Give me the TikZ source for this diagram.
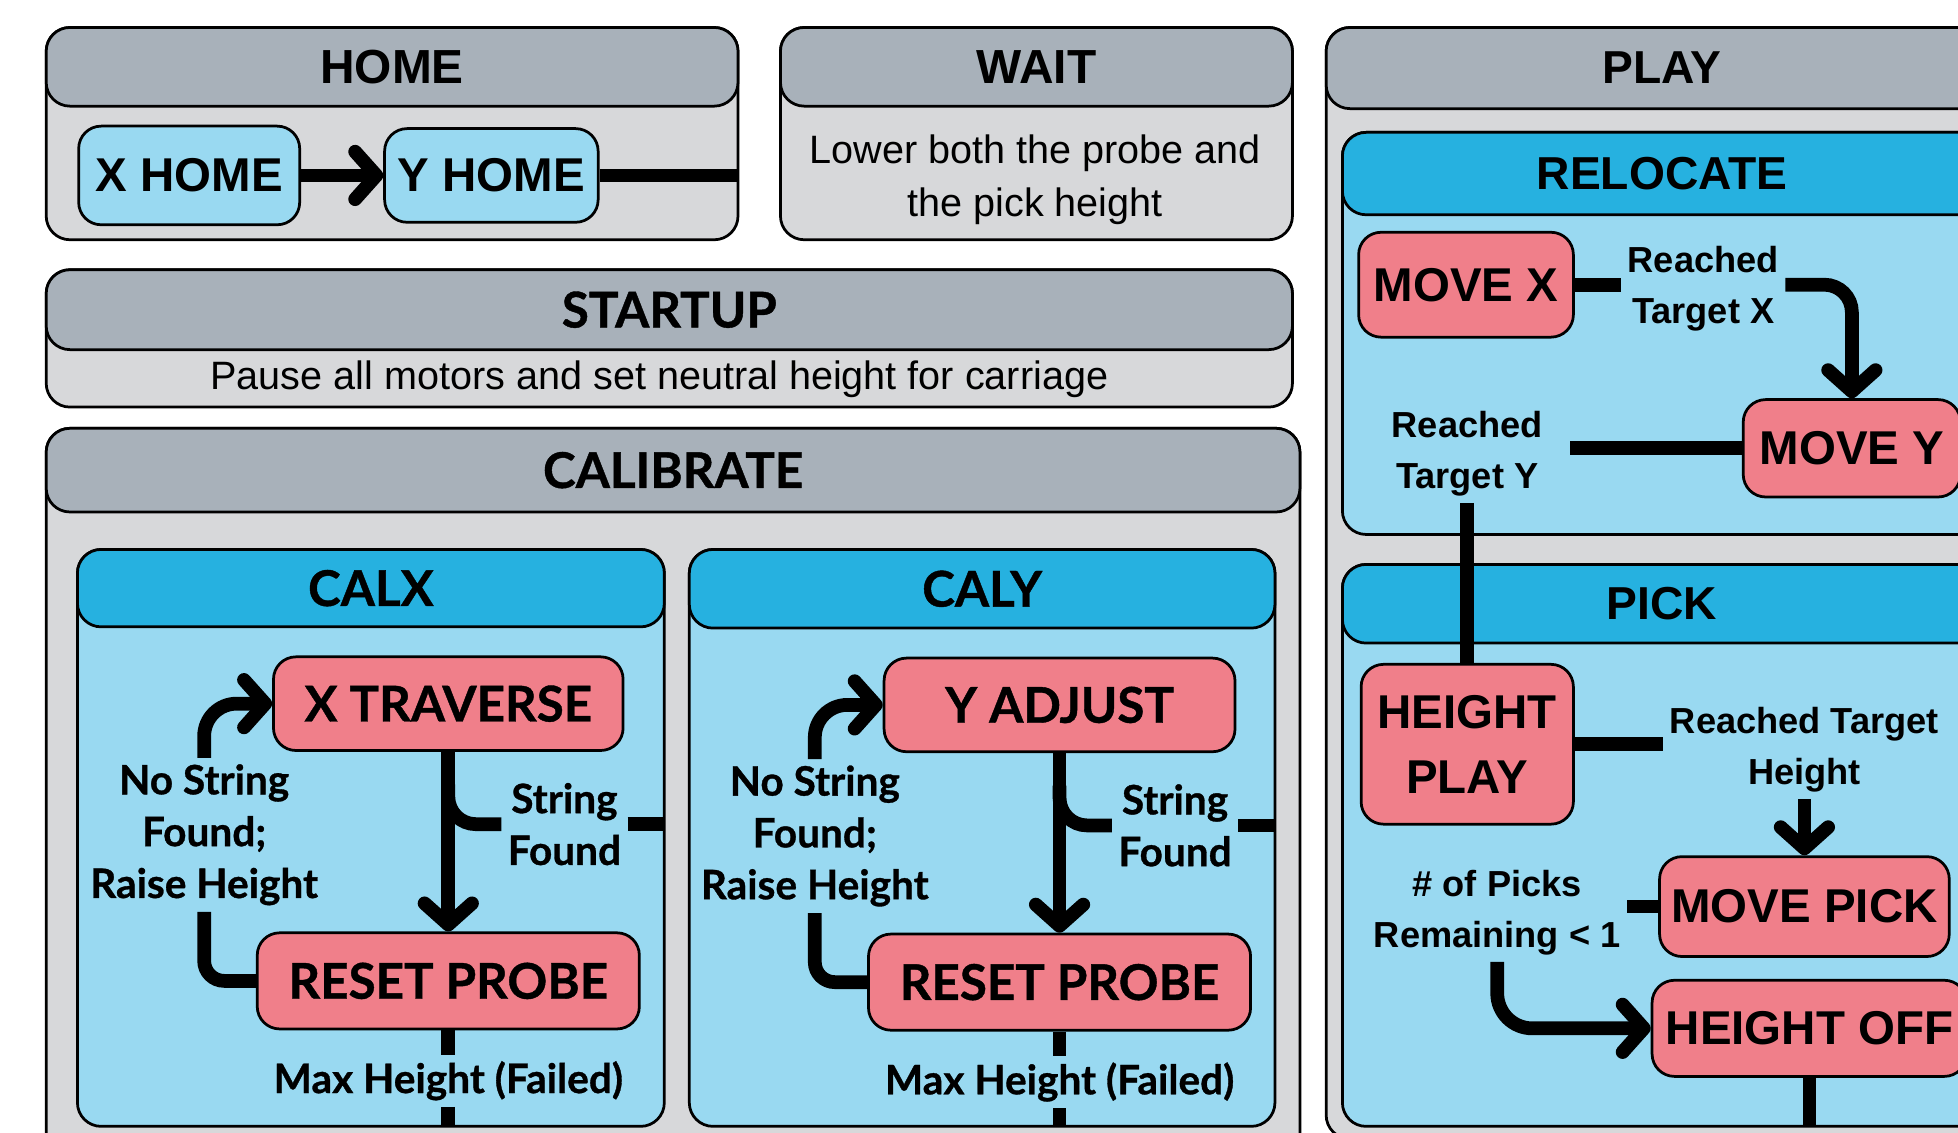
\documentclass[tikz,border=0pt]{standalone}
\usepackage{fontspec}
\setmainfont{Liberation Sans}
\newfontfamily\calfont[BoldFeatures={FakeBold=0.8}]{Lato}
\usetikzlibrary{arrows.meta}

\definecolor{hdgray}{HTML}{A8B1BA}
\definecolor{bdgray}{HTML}{D7D8DA}
\definecolor{hdblue}{HTML}{26B1E0}
\definecolor{bdblue}{HTML}{99D9F1}
\definecolor{stpink}{HTML}{F07F8A}

% type sizes (1 unit = 1pt)
\newcommand*\fHead{\fontsize{37}{44}\selectfont\bfseries}
\newcommand*\fHome{\fontsize{38.3}{44}\selectfont\bfseries}
\newcommand*\fState{\fontsize{38}{52}\selectfont\bfseries}
\newcommand*\fLabel{\fontsize{29}{41}\selectfont\bfseries}
\newcommand*\fNote{\fontsize{31.7}{42}\selectfont}
\newcommand*\fCalHead{\calfont\fontsize{39.5}{44}\selectfont\bfseries}
\newcommand*\fCalState{\calfont\fontsize{39.5}{44}\selectfont\bfseries}
\newcommand*\fCalLabel{\calfont\fontsize{32.5}{41.5}\selectfont\bfseries}

\begin{document}
\begin{tikzpicture}[x=1pt,y=-1pt,
  frame/.style={draw=black, line width=2.2pt, rounded corners=19pt,
    anchor=north west, inner sep=0pt, outer sep=0pt},
  graybody/.style={frame, fill=bdgray},
  grayhead/.style={frame, fill=hdgray, font=\fHead},
  grayheadc/.style={frame, fill=hdgray, font=\fCalHead},
  bluebody/.style={frame, fill=bdblue},
  bluehead/.style={frame, fill=hdblue, font=\fHead},
  blueheadc/.style={frame, fill=hdblue, font=\fCalHead},
  state/.style={draw=black, line width=2.2pt, rounded corners=18pt,
    inner sep=0pt, align=center, font=\fState},
  skystate/.style={state, fill=bdblue},
  pinkstate/.style={state, fill=stpink},
  calstate/.style={state, fill=stpink, font=\fCalState},
  lbl/.style={font=\fLabel, align=center, inner sep=5pt},
  calLbl/.style={font=\fCalLabel, align=center, inner sep=5pt},
  note/.style={font=\fNote, align=center, inner sep=0pt},
  conn/.style={draw=black, line width=11pt},
  arrowed/.style={-{Straight Barb[length=17pt,width=38pt,round]}}
]
\useasboundingbox (0,0) rectangle (1568,907);
\clip (0,0) rectangle (1568,907);
\fill[white] (0,0) rectangle (1568,907);

% ---------- containers ----------
\node[graybody, minimum width=554pt, minimum height=170pt] (home) at (37,22) {};
\node[grayhead, font=\fHome, minimum width=554pt, minimum height=63pt] (homeH) at (37,22) {HOME};

\node[graybody, minimum width=410pt, minimum height=170pt] (wait) at (625,22) {};
\node[grayhead, font=\fHome, minimum width=410pt, minimum height=63pt] (waitH) at (625,22) {WAIT};

\node[graybody, minimum width=998pt, minimum height=110pt] (startup) at (37,216) {};
\node[grayheadc, minimum width=998pt, minimum height=64pt] (startupH) at (37,216) {STARTUP};

\node[graybody, minimum width=1004pt, minimum height=590pt] (calib) at (37,343) {};
\node[grayheadc, minimum width=1004pt, minimum height=67pt] (calibH) at (37,343) {CALIBRATE};

\node[bluebody, minimum width=470pt, minimum height=462pt] (calx) at (62,440) {};
\node[blueheadc, minimum width=470pt, minimum height=62pt] (calxH) at (62,440) {CALX};

\node[bluebody, minimum width=469pt, minimum height=462pt] (caly) at (552,440) {};
\node[blueheadc, minimum width=469pt, minimum height=63pt] (calyH) at (552,440) {CALY};

\node[graybody, minimum width=538pt, minimum height=890pt] (play) at (1062,22) {};
\node[grayhead, minimum width=538pt, minimum height=65pt] (playH) at (1062,22) {PLAY};

\node[bluebody, minimum width=512pt, minimum height=322pt] (reloc) at (1075,106) {};
\node[bluehead, minimum width=512pt, minimum height=66pt] (relocH) at (1075,106) {RELOCATE};

\node[bluebody, minimum width=512pt, minimum height=450pt] (pick) at (1075,452) {};
\node[bluehead, minimum width=512pt, minimum height=63pt] (pickH) at (1075,452) {PICK};

% ---------- descriptions ----------
\node[note] (waitTxt) at (829,144) {Lower both the probe and\\the pick height};
\node[note] (startTxt) at (528,303.5) {Pause all motors and set neutral height for carriage};

% ---------- HOME ----------
\node[skystate, minimum width=177pt, minimum height=79pt] (xhome) at (151.5,140.5) {X HOME};
\node[skystate, minimum width=171pt, minimum height=75pt] (yhome) at (393.5,140.5) {Y HOME};
\draw[conn,arrowed] (xhome) -- (yhome);
\draw[conn] (yhome.east) -- (yhome.east -| home.east);

% ---------- CALX ----------
\node[calstate, minimum width=280pt, minimum height=75pt] (xtrav) at (359,563.5) {X TRAVERSE};
\node[calstate, minimum width=306pt, minimum height=77pt] (resetx) at (359,785.5) {RESET PROBE};
\node[calLbl] (lsfx) at (452,660) {String\\Found};
\node[calLbl] (lnsx) at (163.5,668.5) {No String\\Found;\\Raise Height};
\node[calLbl] (lmhx) at (359,865.5) {Max Height (Failed)};
\draw[conn,arrowed] (xtrav) -- (resetx);
\draw[conn,rounded corners=22pt] ([yshift=-26pt]xtrav.south) |- (lsfx.west);
\draw[conn] (lsfx.east) -- (lsfx.east -| calx.east);
\draw[conn,rounded corners=16pt] (resetx.west) -| (lnsx.south);
\draw[conn,arrowed,rounded corners=26pt] (lnsx.north) |- (xtrav.west);
\draw[conn] (resetx.south) -- (resetx.south |- lmhx.north);
\draw[conn] (lmhx.south) -- (lmhx.south |- calx.south);

% ---------- CALY ----------
\node[calstate, minimum width=281pt, minimum height=75pt] (yadj) at (848.5,564.5) {Y ADJUST};
\node[calstate, minimum width=306pt, minimum height=77pt] (resety) at (848.5,786.5) {RESET PROBE};
\node[calLbl] (lsfy) at (941,661) {String\\Found};
\node[calLbl] (lnsy) at (652.5,669.5) {No String\\Found;\\Raise Height};
\node[calLbl] (lmhy) at (848.5,866.5) {Max Height (Failed)};
\draw[conn,arrowed] (yadj) -- (resety);
\draw[conn,rounded corners=22pt] ([yshift=-26pt]yadj.south) |- (lsfy.west);
\draw[conn] (lsfy.east) -- (lsfy.east -| caly.east);
\draw[conn,rounded corners=16pt] (resety.west) -| (lnsy.south);
\draw[conn,arrowed,rounded corners=26pt] (lnsy.north) |- (yadj.west);
\draw[conn] (resety.south) -- (resety.south |- lmhy.north);
\draw[conn] (lmhy.south) -- (lmhy.south |- caly.south);

% ---------- PLAY states ----------
\node[pinkstate, minimum width=172pt, minimum height=84pt] (movex) at (1174,228) {MOVE X};
\node[pinkstate, minimum width=174pt, minimum height=78pt] (movey) at (1483,359) {MOVE Y};
\node[pinkstate, minimum width=170pt, minimum height=128pt] (hplay) at (1175,596) {HEIGHT\\PLAY};
\node[pinkstate, minimum width=232pt, minimum height=80pt] (movepick) at (1445,726) {MOVE PICK};
\node[pinkstate, minimum width=252pt, minimum height=77pt] (hoff) at (1449,823.5) {HEIGHT OFF};
\node[lbl] (lrx) at (1364,231.5) {Reached\\Target X};
\node[lbl] (lry) at (1175,363.5) {Reached\\Target Y};
\node[lbl] (lrh) at (1445,600.5) {Reached Target\\Height};
\node[lbl] (lpk) at (1199,731) {\# of Picks\\Remaining < 1};

% RELOCATE transitions
\draw[conn] (movex.east) -- (movex.east -| lrx.west);
\draw[conn,arrowed,rounded corners=22pt] (movex.east -| lrx.east) -| (movey.north);
\draw[conn] (movey.west) -- ([xshift=17pt]movey.west -| lry.east);
\draw[conn] (lry.south) -- (hplay.north);

% PICK transitions
\draw[conn] (hplay.east) -- (hplay.east -| lrh.west);
\draw[conn,arrowed] (lrh.south) -- (movepick.north);
\draw[conn] (movepick.west) -- (movepick.west -| lpk.east);
\draw[conn,arrowed,rounded corners=28pt] (lpk.south) |- (hoff.west);
\draw[conn] (hoff.south) -- (hoff.south |- pick.south);
\end{tikzpicture}
\end{document}
